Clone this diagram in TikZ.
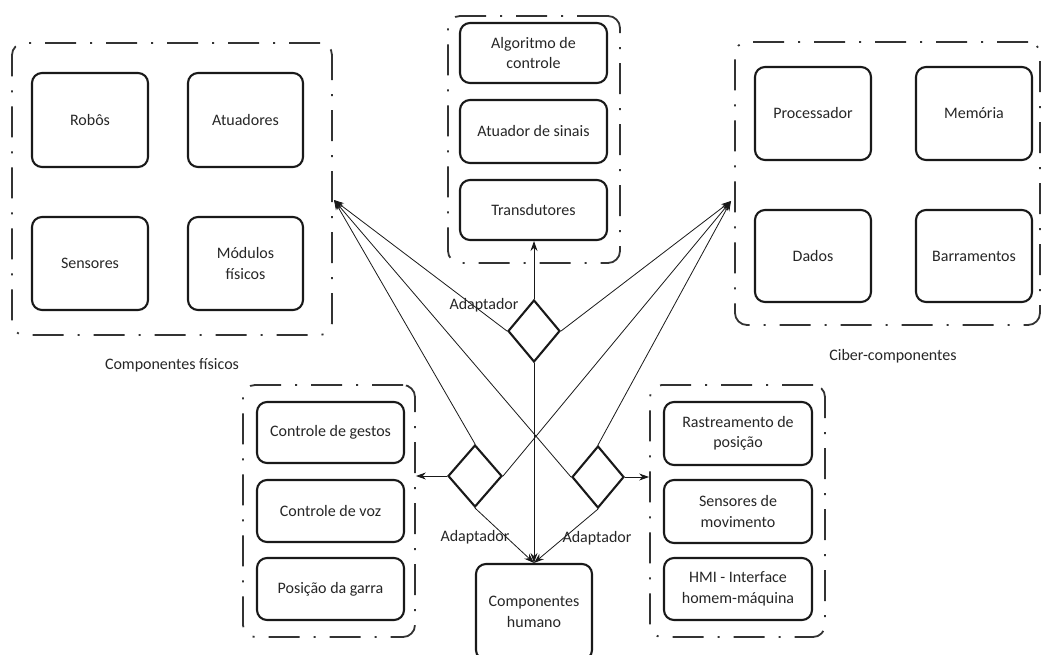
\documentclass[tikz,border=0pt]{standalone}
\usepackage{fontspec}
\setmainfont{Carlito}
\usetikzlibrary{shapes.geometric,arrows.meta}

\begin{document}
\begin{tikzpicture}[x=1pt,y=-1pt,
  lbl/.style={font=\fontsize{16}{20.5}\selectfont, text=black!85},
  part/.style={draw=black!90, line width=2.1pt, rounded corners=10pt, align=center, inner sep=0pt, lbl},
  group/.style={draw=black!80, line width=1.8pt, rounded corners=12pt,
    dash pattern=on 31pt off 14pt on 2pt off 14pt, inner sep=0pt},
  adapter/.style={draw=black!90, diamond, line width=2.1pt, inner sep=0pt,
    minimum width=52pt, minimum height=62pt},
  link/.style={line width=0.8pt, draw=black!90, -{Stealth[length=10pt,width=7pt]}}
]
\useasboundingbox (0,0) rectangle (1043,655);
\clip (0,0) rectangle (1043,655);

% group frames
\node[group, minimum width=320pt, minimum height=292pt] (phy) at (172,189) {};
\node[group, minimum width=172pt, minimum height=247pt] (ctl) at (534,139.5) {};
\node[group, minimum width=305pt, minimum height=283pt] (cyb) at (887.5,183.5) {};
\node[group, minimum width=172pt, minimum height=252pt] (hmL) at (329,511) {};
\node[group, minimum width=175pt, minimum height=252pt] (hmR) at (737.5,511) {};

% physical components
\node[part, minimum width=116pt, minimum height=94pt] (robos) at (90,120) {Robôs};
\node[part, minimum width=115pt, minimum height=94pt] (atuad) at (245.5,120) {Atuadores};
\node[part, minimum width=116pt, minimum height=93pt] (sens) at (90,263.5) {Sensores};
\node[part, minimum width=115pt, minimum height=93pt] (modf) at (245.5,263.5) {Módulos\\físicos};

% control chain
\node[part, minimum width=147pt, minimum height=60pt] (alg) at (533.5,53) {Algoritmo de\\controle};
\node[part, minimum width=147pt, minimum height=63pt] (atsin) at (533.5,131.5) {Atuador de sinais};
\node[part, minimum width=147pt, minimum height=60pt] (trans) at (533.5,210) {Transdutores};

% cyber components
\node[part, minimum width=116pt, minimum height=93pt] (proc) at (813,113.5) {Processador};
\node[part, minimum width=116pt, minimum height=93pt] (mem) at (974,113.5) {Memória};
\node[part, minimum width=116pt, minimum height=92pt] (dados) at (813,256) {Dados};
\node[part, minimum width=116pt, minimum height=92pt] (barr) at (974,256) {Barramentos};

% human interaction, left
\node[part, minimum width=147pt, minimum height=61pt] (gest) at (330.5,432.5) {Controle de gestos};
\node[part, minimum width=147pt, minimum height=62pt] (voz) at (330.5,511) {Controle de voz};
\node[part, minimum width=147pt, minimum height=62pt] (garra) at (330.5,589) {Posição da garra};

% human interaction, right
\node[part, minimum width=148pt, minimum height=63pt] (rast) at (738,433.5) {Rastreamento de\\posição};
\node[part, minimum width=148pt, minimum height=63pt] (movim) at (738,511.5) {Sensores de\\movimento};
\node[part, minimum width=148pt, minimum height=62pt] (hmi) at (738,589) {HMI - Interface\\homem-máquina};

% human component
\node[part, minimum width=116pt, minimum height=96pt] (human) at (534,612) {Componentes\\humano};

% adapters
\node[adapter] (ad1) at (534,331) {};
\node[adapter, minimum width=54pt] (ad2) at (475,476) {};
\node[adapter] (ad3) at (598,477) {};

% entry points on the frames
\coordinate (phyin) at (334,200);
\coordinate (cybin) at (731,201);

% connectors
\draw[link] (ad1.north) -- (ad1.north |- trans.south);
\draw[link] (ad1.south) -- (human.north);
\draw[link] (ad1.west) -- (phyin);
\draw[link] (ad1.east) -- (cybin);

\draw[link] (ad2.west) -- (ad2.west -| hmL.east);
\draw[link] (ad2.north) -- (phyin);
\draw[link] (ad2.east) -- (cybin);
\draw[link] (ad2.south) -- (human.north);

\draw[link] (ad3.east) -- (ad3.east -| hmR.west);
\draw[link] (ad3.west) -- (phyin);
\draw[link] (ad3.north) -- (cybin);
\draw[link] (ad3.south) -- (human.north);

% labels
\node[lbl] (lad1) at (484,305) {Adaptador};
\node[lbl] (lad2) at (475,537) {Adaptador};
\node[lbl] (lad3) at (597,538) {Adaptador};
\node[lbl] (lphy) at (172,365) {Componentes físicos};
\node[lbl] (lcyb) at (893,356) {Ciber-componentes};
\end{tikzpicture}
\end{document}
